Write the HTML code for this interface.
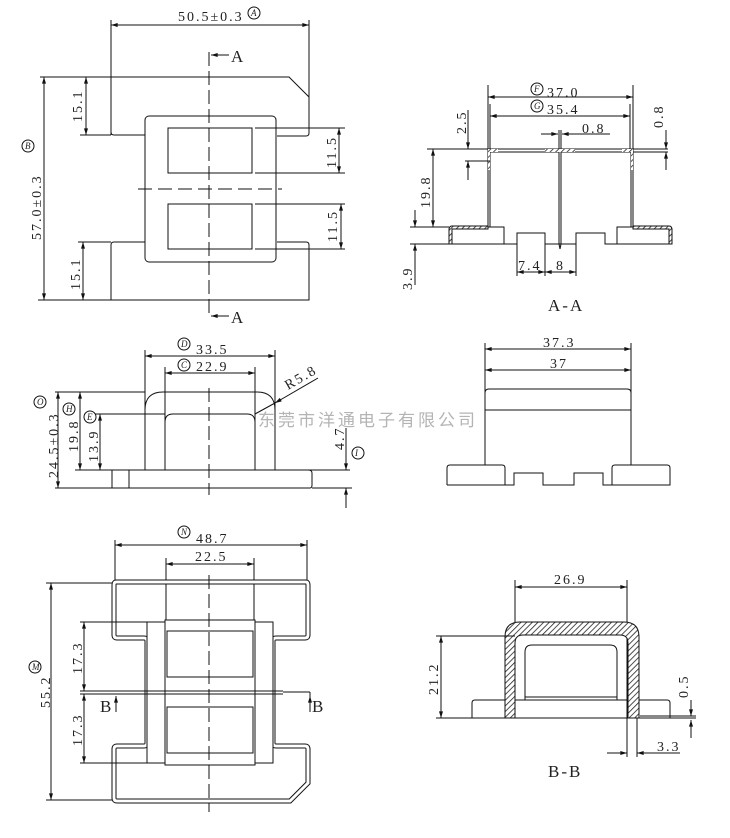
<!DOCTYPE html>
<html><head><meta charset="utf-8"><style>
html,body{margin:0;padding:0;background:#fff;}
svg{display:block}
text{font-family:"Liberation Serif","Noto Serif CJK SC",serif;font-size:14px;fill:#222;letter-spacing:2px}
.c{font-size:9px;font-style:italic;letter-spacing:0}
</style></head><body>
<svg width="730" height="838" viewBox="0 0 730 838" xmlns="http://www.w3.org/2000/svg">
<defs>
<marker id="a" viewBox="0 0 10 6" refX="10" refY="3" markerWidth="9" markerHeight="4" orient="auto-start-reverse" markerUnits="userSpaceOnUse"><path d="M0,0L10,3L0,6z" fill="#111"/></marker>
<pattern id="h" width="4" height="4" patternUnits="userSpaceOnUse" patternTransform="rotate(45)"><rect width="4" height="4" fill="#fff"/><line x1="0" y1="0" x2="0" y2="4" stroke="#222" stroke-width="1.6"/></pattern>
</defs>
<g fill="none" stroke="#111" stroke-width="1">

<!-- ===== VIEW 1 top-left ===== -->
<line x1="111" y1="20" x2="111" y2="135"/>
<line x1="309" y1="20" x2="309" y2="97"/>
<line x1="111" y1="25" x2="309" y2="25" marker-start="url(#a)" marker-end="url(#a)"/>
<path d="M111,77 L289,77 L309,97 L309,133 Q309,136 306,136 L277,136"/>
<path d="M111,77 L111,132 Q111,135 114,135 L145,135"/>
<rect x="145" y="116" width="131" height="146" rx="4"/>
<rect x="168" y="128" width="84" height="45"/>
<rect x="168" y="204" width="84" height="45"/>
<path d="M145,242 L114,242 Q111,242 111,245 L111,300 L309,300 L309,245 Q309,242 306,242 L277,242"/>
<line x1="138" y1="189" x2="282" y2="189" stroke-dasharray="14,6"/>
<line x1="209" y1="52" x2="209" y2="318" stroke-dasharray="14,5"/>
<line x1="229" y1="55" x2="211" y2="55" marker-end="url(#a)"/>
<line x1="229" y1="316" x2="211" y2="316" marker-end="url(#a)"/>
<line x1="255" y1="128" x2="345" y2="128"/><line x1="255" y1="173" x2="345" y2="173"/>
<line x1="255" y1="204" x2="345" y2="204"/><line x1="255" y1="249" x2="345" y2="249"/>
<line x1="339" y1="128" x2="339" y2="173" marker-start="url(#a)" marker-end="url(#a)"/>
<line x1="341" y1="204" x2="341" y2="249" marker-start="url(#a)" marker-end="url(#a)"/>
<line x1="40" y1="77" x2="111" y2="77"/><line x1="80" y1="135" x2="111" y2="135"/>
<line x1="78" y1="242" x2="111" y2="242"/><line x1="38" y1="300" x2="111" y2="300"/>
<line x1="86" y1="77" x2="86" y2="135" marker-start="url(#a)" marker-end="url(#a)"/>
<line x1="83" y1="242" x2="83" y2="300" marker-start="url(#a)" marker-end="url(#a)"/>
<line x1="44" y1="77" x2="44" y2="300" marker-start="url(#a)" marker-end="url(#a)"/>
<circle cx="254" cy="13" r="6"/><circle cx="28" cy="146" r="6"/>

<!-- ===== VIEW 2 A-A ===== -->
<line x1="488" y1="85" x2="488" y2="150"/><line x1="633" y1="85" x2="633" y2="150"/>
<line x1="490" y1="104" x2="490" y2="150"/><line x1="630" y1="104" x2="630" y2="150"/>
<line x1="488" y1="97" x2="633" y2="97" marker-start="url(#a)" marker-end="url(#a)"/>
<line x1="490" y1="116" x2="630" y2="116" marker-start="url(#a)" marker-end="url(#a)"/>
<circle cx="537" cy="89" r="6"/><circle cx="537" cy="106" r="6"/>
<line x1="541" y1="134" x2="558" y2="134" marker-end="url(#a)"/>
<line x1="610" y1="134" x2="562" y2="134" marker-end="url(#a)"/>
<line x1="559" y1="130" x2="559" y2="150"/><line x1="561" y1="130" x2="561" y2="150"/>
<line x1="427" y1="149" x2="668" y2="149"/><line x1="488" y1="152" x2="668" y2="152"/>
<rect x="488" y="149" width="2" height="78" fill="#fff"/>
<rect x="631" y="149" width="2" height="78" fill="#fff"/>
<rect x="559" y="149" width="2" height="95" fill="#fff"/>
<rect x="488" y="149" width="10" height="3" fill="url(#h)" stroke="none"/>
<rect x="545" y="149" width="30" height="3" fill="url(#h)" stroke="none"/>
<rect x="622" y="149" width="11" height="3" fill="url(#h)" stroke="none"/>
<rect x="488" y="152" width="2" height="18" fill="url(#h)" stroke="none"/>
<rect x="631" y="152" width="2" height="18" fill="url(#h)" stroke="none"/>
<line x1="465" y1="161" x2="490" y2="161"/>
<line x1="468" y1="110" x2="468" y2="149" marker-end="url(#a)"/>
<line x1="468" y1="180" x2="468" y2="161" marker-end="url(#a)"/>
<line x1="666" y1="130" x2="666" y2="149" marker-end="url(#a)"/>
<line x1="666" y1="170" x2="666" y2="152" marker-end="url(#a)"/>
<line x1="433" y1="149" x2="433" y2="227" marker-start="url(#a)" marker-end="url(#a)"/>
<path d="M488,227 L452,227 Q449,227 449,230 L449,244 L504,244 L504,227 L488,227"/>
<path d="M452,226 L488,226 L488,229 L452,229 L452,244 L449,244 L449,230 Q449,226 452,226z" fill="url(#h)"/>
<path d="M633,227 L669,227 Q672,227 672,230 L672,244 L617,244 L617,227 L633,227"/>
<path d="M633,226 L669,226 Q672,226 672,230 L672,244 L669,244 L669,229 L633,229z" fill="url(#h)"/>
<path d="M504,244 L517,244 L517,233 L545,233 L545,244 L576,244 L576,233 L605,233 L605,244 L617,244"/>
<line x1="559" y1="244" x2="560" y2="249"/><line x1="561" y1="244" x2="560" y2="249"/>
<line x1="410" y1="227" x2="449" y2="227"/><line x1="410" y1="244" x2="449" y2="244"/>
<line x1="415" y1="210" x2="415" y2="227" marker-end="url(#a)"/>
<line x1="415" y1="285" x2="415" y2="244" marker-end="url(#a)"/>
<line x1="517" y1="244" x2="517" y2="276"/><line x1="545" y1="244" x2="545" y2="276"/><line x1="576" y1="244" x2="576" y2="276"/>
<line x1="517" y1="272" x2="545" y2="272" marker-start="url(#a)" marker-end="url(#a)"/>
<line x1="545" y1="272" x2="576" y2="272" marker-start="url(#a)" marker-end="url(#a)"/>

<!-- ===== VIEW 3 front ===== -->
<line x1="145" y1="350" x2="145" y2="470"/><line x1="275" y1="350" x2="275" y2="470"/>
<line x1="165" y1="367" x2="165" y2="470"/><line x1="255" y1="367" x2="255" y2="470"/>
<line x1="145" y1="356" x2="275" y2="356" marker-start="url(#a)" marker-end="url(#a)"/>
<line x1="165" y1="373" x2="255" y2="373" marker-start="url(#a)" marker-end="url(#a)"/>
<circle cx="184" cy="344" r="6"/><circle cx="184" cy="365" r="6"/>
<path d="M145,410 Q145,392 163,392 L257,392 Q275,392 275,410"/>
<path d="M165,422 Q165,414 173,414 L247,414 Q255,414 255,422"/>
<line x1="55" y1="392" x2="145" y2="392"/>
<line x1="95" y1="414" x2="165" y2="414"/>
<line x1="75" y1="470" x2="350" y2="470"/>
<path d="M112,470 L112,488 M129,470 L129,488 M55,488 L310,488 Q312,488 312,485 L312,473 Q312,470 308,470"/>
<line x1="312" y1="488" x2="352" y2="488"/>
<line x1="58" y1="392" x2="58" y2="488" marker-start="url(#a)" marker-end="url(#a)"/>
<line x1="80" y1="392" x2="80" y2="470" marker-start="url(#a)" marker-end="url(#a)"/>
<line x1="100" y1="414" x2="100" y2="470" marker-start="url(#a)" marker-end="url(#a)"/>
<line x1="346" y1="428" x2="346" y2="470" marker-end="url(#a)"/>
<line x1="346" y1="508" x2="346" y2="488" marker-end="url(#a)"/>
<line x1="209" y1="388" x2="209" y2="495" stroke-dasharray="14,5"/>
<line x1="318" y1="378" x2="275" y2="403" marker-end="url(#a)"/>
<line x1="275" y1="403" x2="255" y2="414"/>
<circle cx="40" cy="402" r="6"/><circle cx="69" cy="409" r="6"/><circle cx="90" cy="417" r="6"/><circle cx="358" cy="453" r="6"/>

<!-- ===== VIEW 4 side ===== -->
<line x1="485" y1="343" x2="485" y2="465"/><line x1="631" y1="343" x2="631" y2="465"/>
<line x1="485" y1="349" x2="631" y2="349" marker-start="url(#a)" marker-end="url(#a)"/>
<line x1="485" y1="370" x2="631" y2="370" marker-start="url(#a)" marker-end="url(#a)"/>
<path d="M485,393 Q485,389 489,389 L627,389 Q631,389 631,393"/>
<line x1="485" y1="410" x2="631" y2="410"/>
<path d="M447,485 L447,468 Q447,465 450,465 L502,465 Q505,465 505,468 L505,485 L447,485"/>
<path d="M505,485 L514,485 L514,473 L543,473 L543,485 L574,485 L574,473 L603,473 L603,485 L612,485"/>
<path d="M612,485 L612,468 Q612,465 615,465 L667,465 Q670,465 670,468 L670,485 L612,485"/>

<!-- ===== VIEW 5 bottom-left ===== -->
<line x1="115" y1="540" x2="115" y2="582"/><line x1="307" y1="540" x2="307" y2="582"/>
<line x1="115" y1="545" x2="307" y2="545" marker-start="url(#a)" marker-end="url(#a)"/>
<line x1="166" y1="558" x2="166" y2="620"/><line x1="254" y1="558" x2="254" y2="620"/>
<line x1="166" y1="564" x2="254" y2="564" marker-start="url(#a)" marker-end="url(#a)"/>
<circle cx="184" cy="532" r="6"/>
<path d="M116,582 L306,582 Q308,582 308,585 L308,635 Q308,638 305,638 L276,638 Q273,638 273,641 L273,743 Q273,746 276,746 L305,746 Q308,746 308,749 L308,783 L290,801 L117,801 Q114,801 114,798 L114,749 Q114,746 117,746 L144,746 Q147,746 147,743 L147,641 Q147,638 144,638 L117,638 Q114,638 114,635 L114,585 Q114,582 116,582z" stroke-width="5"/>
<path d="M116,582 L306,582 Q308,582 308,585 L308,635 Q308,638 305,638 L276,638 Q273,638 273,641 L273,743 Q273,746 276,746 L305,746 Q308,746 308,749 L308,783 L290,801 L117,801 Q114,801 114,798 L114,749 Q114,746 117,746 L144,746 Q147,746 147,743 L147,641 Q147,638 144,638 L117,638 Q114,638 114,635 L114,585 Q114,582 116,582z" stroke="#fff" stroke-width="3"/>
<rect x="147" y="622" width="126" height="141" fill="#fff"/>
<rect x="165" y="620" width="90" height="145" fill="#fff"/>
<rect x="167" y="631" width="86" height="46"/>
<rect x="167" y="707" width="86" height="46"/>
<line x1="80" y1="691" x2="283" y2="691"/><line x1="80" y1="694" x2="283" y2="694"/>
<line x1="283" y1="692" x2="310" y2="692"/>
<line x1="310" y1="692" x2="310" y2="712"/>
<line x1="116" y1="712" x2="116" y2="696" marker-end="url(#a)"/>
<line x1="310" y1="712" x2="310" y2="696" marker-end="url(#a)"/>
<line x1="80" y1="622" x2="147" y2="622"/><line x1="80" y1="763" x2="147" y2="763"/>
<line x1="84" y1="622" x2="84" y2="691" marker-start="url(#a)" marker-end="url(#a)"/>
<line x1="84" y1="694" x2="84" y2="763" marker-start="url(#a)" marker-end="url(#a)"/>
<line x1="46" y1="583" x2="112" y2="583"/><line x1="46" y1="800" x2="112" y2="800"/>
<line x1="51" y1="583" x2="51" y2="800" marker-start="url(#a)" marker-end="url(#a)"/>
<line x1="209" y1="575" x2="209" y2="812" stroke-dasharray="14,5"/>
<circle cx="35" cy="667" r="6"/>

<!-- ===== VIEW 6 B-B ===== -->
<line x1="515" y1="580" x2="515" y2="636"/><line x1="627" y1="580" x2="627" y2="757"/>
<line x1="637" y1="700" x2="637" y2="757"/>
<line x1="515" y1="587" x2="627" y2="587" marker-start="url(#a)" marker-end="url(#a)"/>
<path d="M472,718 L472,703 Q472,700 475,700 L505,700 M639,700 L667,700 Q670,700 670,703 L670,718"/>
<line x1="515" y1="700" x2="628" y2="700"/>
<path d="M525,700 L525,652 Q525,645 532,645 L610,645 Q617,645 617,652 L617,700"/>
<line x1="525" y1="697" x2="617" y2="697"/>
<path d="M505,718 L505,637 Q505,622 520,622 L624,622 Q639,622 639,637 L639,718 L628,718 L628,643 Q628,635 620,635 L523,635 Q515,635 515,643 L515,718z" fill="url(#h)"/>
<line x1="436" y1="718" x2="696" y2="718"/>
<line x1="436" y1="636" x2="515" y2="636"/>
<line x1="441" y1="636" x2="441" y2="718" marker-start="url(#a)" marker-end="url(#a)"/>
<line x1="691" y1="700" x2="691" y2="716" marker-end="url(#a)"/>
<line x1="691" y1="738" x2="691" y2="720" marker-end="url(#a)"/>
<line x1="640" y1="716" x2="696" y2="716"/>
<line x1="607" y1="753" x2="627" y2="753" marker-end="url(#a)"/>
<line x1="680" y1="753" x2="637" y2="753" marker-end="url(#a)"/>
</g>

<g>
<text x="178" y="21">50.5±0.3</text>
<text class="c" x="251" y="16">A</text>
<text x="231" y="62" style="font-size:17px">A</text>
<text x="231" y="323" style="font-size:17px">A</text>
<text class="c" x="25" y="149">B</text>
<text transform="translate(41,240) rotate(-90)">57.0±0.3</text>
<text transform="translate(82,122) rotate(-90)">15.1</text>
<text transform="translate(80,290) rotate(-90)">15.1</text>
<text transform="translate(336,168) rotate(-90)">11.5</text>
<text transform="translate(337,242) rotate(-90)">11.5</text>

<text class="c" x="534" y="92">F</text><text x="547" y="97">37.0</text>
<text class="c" x="534" y="109">G</text><text x="547" y="114">35.4</text>
<text x="582" y="133">0.8</text>
<text transform="translate(466,134) rotate(-90)">2.5</text>
<text transform="translate(663,128) rotate(-90)">0.8</text>
<text transform="translate(430,208) rotate(-90)">19.8</text>
<text transform="translate(412,290) rotate(-90)">3.9</text>
<text x="518" y="270">7.4</text>
<text x="556" y="270">8</text>
<text x="548" y="311" style="font-size:17px">A-A</text>

<text class="c" x="181" y="347">D</text><text x="196" y="354">33.5</text>
<text class="c" x="181" y="368">C</text><text x="196" y="371">22.9</text>
<text transform="translate(288,390) rotate(-30)">R5.8</text>
<text class="c" x="37" y="405">O</text>
<text class="c" x="66" y="412">H</text>
<text class="c" x="87" y="420">E</text>
<text transform="translate(58,478) rotate(-90)">24.5±0.3</text>
<text transform="translate(78,452) rotate(-90)">19.8</text>
<text transform="translate(98,462) rotate(-90)">13.9</text>
<text transform="translate(344,450) rotate(-90)">4.7</text>
<text class="c" x="355" y="456">I</text>
<text x="258" y="426" style="font-size:17px;fill:#b4b4b4;font-family:'Liberation Sans','Noto Sans CJK SC',sans-serif;letter-spacing:3px">东莞市洋通电子有限公司</text>

<text x="543" y="347">37.3</text>
<text x="550" y="368">37</text>

<text class="c" x="181" y="535">N</text><text x="196" y="543">48.7</text>
<text x="195" y="561">22.5</text>
<text class="c" x="32" y="670">M</text>
<text transform="translate(50,708) rotate(-90)">55.2</text>
<text transform="translate(82,674) rotate(-90)">17.3</text>
<text transform="translate(82,746) rotate(-90)">17.3</text>
<text x="100" y="712" style="font-size:17px">B</text>
<text x="312" y="712" style="font-size:17px">B</text>

<text x="554" y="584">26.9</text>
<text transform="translate(438,695) rotate(-90)">21.2</text>
<text transform="translate(688,698) rotate(-90)">0.5</text>
<text x="657" y="751">3.3</text>
<text x="548" y="777" style="font-size:17px">B-B</text>
</g>
</svg>
</body></html>
